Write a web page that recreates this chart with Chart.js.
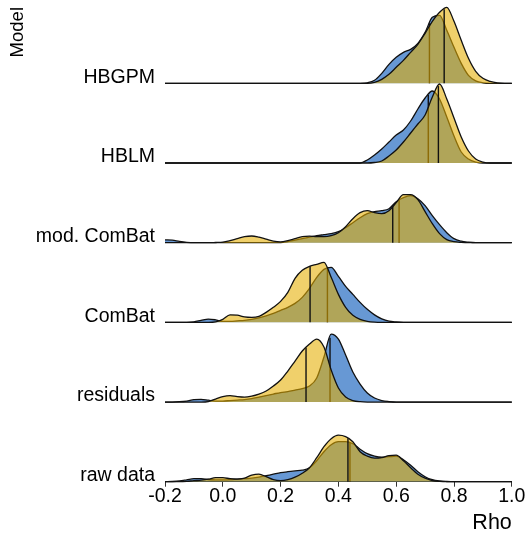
<!DOCTYPE html>
<html>
<head>
<meta charset="utf-8">
<script src="https://cdn.jsdelivr.net/npm/chart.js@4"></script>
<style>
  html, body { margin: 0; padding: 0; background: #fff; }
  canvas { display: block; }
</style>
</head>
<body>
<canvas id="chart" width="527" height="536"></canvas>
<script>
// rows from bottom to top
const models = ["raw data", "residuals", "ComBat", "mod. ComBat", "HBLM", "HBGPM"];
const xTicks = [-0.2, 0.0, 0.2, 0.4, 0.6, 0.8, 1.0];

// density grid (Rho)
const rho = [-0.2,-0.175,-0.15,-0.125,-0.1,-0.075,-0.05,-0.025,
  0,0.025,0.05,0.075,0.1,0.125,0.15,0.175,
  0.2,0.225,0.25,0.275,0.3,0.325,0.35,0.375,
  0.4,0.425,0.45,0.475,0.5,0.525,0.55,0.575,
  0.6,0.625,0.65,0.675,0.7,0.725,0.75,0.775,
  0.8,0.825,0.85,0.875,0.9,0.925,0.95,0.975,1.0];

// densities, blue group
const rawBlue = [0,0.02,0.07,0.18,0.3,0.3,0.22,0.18,
  0.18,0.2,0.25,0.3,0.35,0.45,0.6,0.75,
  0.9,1.0,1.08,1.15,1.4,2.1,3.0,3.7,
  4.0,4.0,3.8,3.25,2.8,2.55,2.45,2.5,
  2.55,2.2,1.65,1.0,0.5,0.2,0.07,0.02,
  0,0,0,0,0,0,0,0,0];
const residBlue = [0,0,0.03,0.1,0.23,0.27,0.18,0.1,
  0.1,0.15,0.2,0.25,0.35,0.5,0.65,0.8,
  0.95,1.05,1.2,1.35,1.6,2.4,4.5,6.8,
  6.3,4.7,3.0,1.8,0.9,0.4,0.15,0.05,
  0,0,0,0,0,0,0,0,
  0,0,0,0,0,0,0,0,0];
const combatBlue = [0,0,0,0,0.05,0.2,0.33,0.25,
  0.1,0.1,0.15,0.2,0.3,0.45,0.65,0.9,
  1.2,1.5,1.9,2.5,3.4,4.5,5.3,5.5,
  4.6,3.6,2.8,2.0,1.3,0.75,0.35,0.12,
  0.04,0,0,0,0,0,0,0,
  0,0,0,0,0,0,0,0,0];
const modBlue = [0.28,0.25,0.13,0.04,0,0,0,0,
  0,0,0,0,0,0,0,0,
  0,0.1,0.25,0.4,0.55,0.7,0.8,0.9,
  1.1,1.5,2.0,2.5,2.9,3.1,3.2,3.4,
  4.1,4.5,4.7,4.4,3.7,2.7,1.8,1.0,
  0.4,0.15,0.05,0,0,0,0,0,0];
const hblmBlue = [0,0,0,0,0,0,0,0,
  0,0,0,0,0,0,0,0,
  0,0,0,0,0,0,0,0,
  0,0,0,0,0.3,0.8,1.4,2.1,
  2.8,3.3,4.2,5.4,6.5,7.2,6.4,4.6,
  2.7,1.1,0.4,0.1,0,0,0,0,0];
const hbgpmBlue = [0,0,0,0,0,0,0,0,
  0,0,0,0,0,0,0,0,
  0,0,0,0,0,0,0,0,
  0,0,0,0,0.05,0.3,1.0,1.9,
  2.6,3.1,3.4,4.0,5.1,6.6,6.8,5.3,
  3.6,2.0,0.8,0.25,0.05,0,0,0,0];

// densities, yellow group
const rawYellow = [0,0,0,0.03,0.1,0.15,0.25,0.4,
  0.4,0.3,0.25,0.35,0.65,0.75,0.5,0.2,
  0.1,0.2,0.45,0.85,1.4,2.4,3.5,4.3,
  4.65,4.5,4.0,3.0,2.55,2.35,2.4,2.6,
  2.65,2.1,1.4,0.75,0.35,0.12,0.03,0,
  0,0,0,0,0,0,0,0,0];
const residYellow = [0,0,0,0,0,0,0.05,0.3,
  0.55,0.65,0.55,0.5,0.6,0.8,1.1,1.6,
  2.2,3.1,4.1,5.1,5.8,6.3,5.5,3.2,
  1.4,0.5,0.15,0.03,0,0,0,0,
  0,0,0,0,0,0,0,0,
  0,0,0,0,0,0,0,0,0];
const combatYellow = [0,0,0,0,0,0,0,0.05,
  0.3,0.75,0.72,0.55,0.5,0.6,1.0,1.5,
  2.1,3.0,4.4,5.2,5.6,5.8,6.0,4.5,
  2.8,1.5,0.7,0.3,0.1,0.02,0,0,
  0,0,0,0,0,0,0,0,
  0,0,0,0,0,0,0,0,0];
const modYellow = [0,0,0,0,0,0,0,0.02,
  0.05,0.2,0.4,0.6,0.67,0.55,0.35,0.15,
  0.08,0.2,0.4,0.6,0.65,0.6,0.6,0.7,
  1.0,1.6,2.4,3.0,3.2,3.0,2.9,3.2,
  4.0,4.8,4.8,4.3,3.1,1.9,0.9,0.3,
  0.1,0.03,0,0,0,0,0,0,0];
const hblmYellow = [0,0,0,0,0,0,0,0,
  0,0,0,0,0,0,0,0,
  0,0,0,0,0,0,0,0,
  0,0,0,0,0,0.05,0.2,0.7,
  1.3,2.1,3.0,3.9,4.8,6.6,7.9,6.4,
  4.5,2.6,1.2,0.4,0.1,0,0,0,0];
const hbgpmYellow = [0,0,0,0,0,0,0,0,
  0,0,0,0,0,0,0,0,
  0,0,0,0,0,0,0,0,
  0,0,0,0,0,0.1,0.4,0.9,
  1.6,2.3,3.1,3.9,5.0,6.2,7.1,7.6,
  6.2,4.3,2.5,1.2,0.5,0.2,0.05,0,0];

// medians per row (same order as models)
const medianBlue = [0.44, 0.371, 0.362, 0.61, 0.711, 0.715];
const medianYellow = [0.433, 0.288, 0.302, 0.588, 0.746, 0.766];

const blueRows = [rawBlue, residBlue, combatBlue, modBlue, hblmBlue, hbgpmBlue];
const yellowRows = [rawYellow, residYellow, combatYellow, modYellow, hblmYellow, hbgpmYellow];

const ridgeScale = 0.1255;   // density units -> row heights
const blueFill = "rgba(55,120,198,0.76)";
const yellowFill = "rgba(229,174,0,0.58)";
const outline = "#111";
const font = "'Liberation Sans', Arial, Helvetica, sans-serif";

function densityAt(dens, x) {
  for (let i = 0; i < rho.length - 1; i++) {
    if (x >= rho[i] && x <= rho[i + 1]) {
      const t = (x - rho[i]) / (rho[i + 1] - rho[i]);
      return dens[i] + t * (dens[i + 1] - dens[i]);
    }
  }
  return 0;
}

function ridge(dens, row, color) {
  return {
    type: "line",
    data: rho.map((x, i) => ({ x: x, y: row + dens[i] * ridgeScale })),
    borderColor: outline,
    borderWidth: 1.3,
    backgroundColor: color,
    fill: { value: row },
    pointRadius: 0,
    cubicInterpolationMode: "monotone",
    clip: false
  };
}

function medianLine(dens, row, m) {
  return {
    type: "line",
    data: [{ x: m, y: row }, { x: m, y: row + densityAt(dens, m) * ridgeScale }],
    borderColor: "#111",
    borderWidth: 1.4,
    fill: false,
    pointRadius: 0,
    tension: 0,
    clip: false
  };
}

// draw top row first so lower ridges sit over it
const sets = [];
for (let r = models.length - 1; r >= 0; r--) {
  sets.push(ridge(blueRows[r], r, blueFill));
  sets.push(medianLine(blueRows[r], r, medianBlue[r]));
  sets.push(ridge(yellowRows[r], r, yellowFill));
  sets.push(medianLine(yellowRows[r], r, medianYellow[r]));
}
sets.forEach((d, k) => { d.order = -k; });

new Chart(document.getElementById("chart").getContext("2d"), {
  type: "line",
  data: { datasets: sets },
  options: {
    responsive: false,
    animation: false,
    layout: { padding: { top: 7, right: 15.2, left: 0, bottom: 0 } },
    plugins: { legend: { display: false }, tooltip: { enabled: false } },
    scales: {
      x: {
        type: "linear",
        min: -0.2,
        max: 1.0,
        afterBuildTicks: s => { s.ticks = xTicks.map(v => ({ value: v })); },
        afterFit: s => { s.height = 54.3; s.paddingLeft = 0; s.paddingRight = 0; },
        ticks: {
          color: "#000",
          padding: 0,
          font: { family: font, size: 19.5, lineHeight: 1 },
          callback: v => (Math.abs(v) < 1e-9 ? "0.0" : Number(v).toFixed(1))
        },
        grid: { drawOnChartArea: false, drawTicks: true, tickLength: 5, color: "#333", tickWidth: 1 },
        border: { display: true, color: "#333", width: 1 },
        title: {
          display: true, text: "Rho", align: "end", color: "#000",
          font: { family: font, size: 21.5, lineHeight: 1.2 },
          padding: { top: 3.1, bottom: 0 }
        }
      },
      y: {
        type: "linear",
        min: 0,
        max: 5.958,
        afterBuildTicks: s => { s.ticks = models.map((m, i) => ({ value: i })); },
        afterFit: s => { s.width = 165; s.paddingTop = 0; s.paddingBottom = 0; },
        ticks: {
          color: "#000",
          padding: 10,
          labelOffset: -6,
          font: { family: font, size: 19.5 },
          callback: v => models[v]
        },
        grid: { display: false, drawTicks: false, tickLength: 0 },
        border: { display: false },
        title: {
          display: true, text: "Model", align: "end", color: "#000",
          font: { family: font, size: 18.5, lineHeight: 1.2 },
          padding: { top: 7.2, bottom: 0 }
        }
      }
    }
  }
});
</script>
</body>
</html>
